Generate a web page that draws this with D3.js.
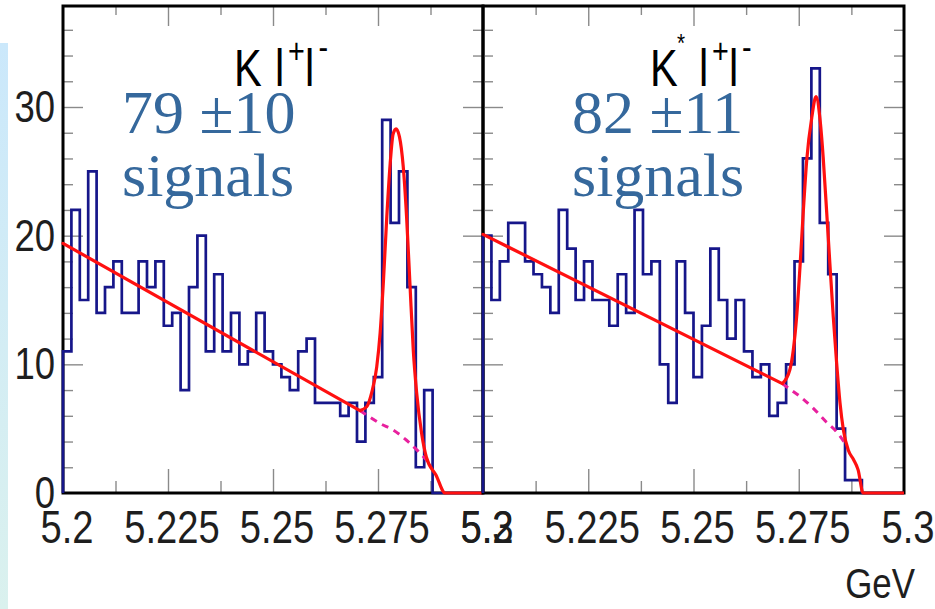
<!DOCTYPE html>
<html>
<head>
<meta charset="utf-8">
<script src="https://cdn.jsdelivr.net/npm/d3@7"></script>
<style>
  html, body { margin: 0; padding: 0; background: #ffffff; }
  svg { display: block; }
</style>
</head>
<body>
<svg id="chart" width="935" height="609"></svg>
<script>
// Invariant-mass spectra for B -> K l+l- and B -> K* l+l- candidates
const massDomain = [5.2, 5.3];
const binWidth = 0.002;

const massTicks = [5.2, 5.225, 5.25, 5.275, 5.3];
const massTickLabels = ["5.2", "5.225", "5.25", "5.275", "5.3"];
const massMinorTicks = [5.2125, 5.2375, 5.2625, 5.2875];
const countTicks = [0, 10, 20, 30];
const countMinorTicks = [2, 4, 6, 8, 12, 14, 16, 18, 22, 24, 26, 28, 32, 34, 36];

// entries per 2 MeV bin
const kllCounts = [11, 22, 15, 25, 14, 16, 18, 14, 14, 18,
                   16, 18, 13, 14, 8, 16, 20, 11, 17, 11,
                   14, 10, 11, 14, 11, 10, 9, 8, 11, 12,
                   7, 7, 7, 6, 7, 4, 7, 9, 29, 21,
                   25, 16, 2, 8, 0, 0, 0, 0, 0, 0];
const kstarllCounts = [20, 15, 18, 21, 21, 18, 17, 16, 14, 22,
                       19, 15, 18, 15, 15, 13, 17, 14, 22, 17,
                       18, 10, 7, 18, 14, 9, 13, 19, 15, 12,
                       15, 11, 9, 10, 6, 7, 10, 18, 26, 33,
                       21, 17, 5, 1, 1, 0, 0, 0, 0, 0];

// fitted signal + background (mass, entries)
const kllFit = [
  [5.2000, 19.4], [5.2707, 6.4], [5.2723, 6.7], [5.2735, 7.8], [5.2747, 9.8],
  [5.2755, 12.4], [5.2763, 16.5], [5.2771, 21.5], [5.2779, 25.6], [5.2786, 27.9],
  [5.2793, 28.3], [5.2801, 27.7], [5.2810, 25.4], [5.2818, 21.5], [5.2826, 16.3],
  [5.2834, 11.1], [5.2842, 7.8], [5.2854, 4.6], [5.2865, 2.8], [5.2888, 1.4],
  [5.2910, 0], [5.3000, 0]
];
const kstarllFit = [
  [5.2000, 20.1], [5.2711, 8.5], [5.2729, 9.6], [5.2737, 11.1], [5.2745, 13.7],
  [5.2753, 17.6], [5.2761, 22.0], [5.2769, 25.9], [5.2781, 29.2], [5.2791, 30.8],
  [5.2800, 29.2], [5.2808, 26.1], [5.2816, 22.0], [5.2824, 17.8], [5.2832, 13.7],
  [5.2840, 10.1], [5.2848, 7.0], [5.2856, 4.9], [5.2868, 3.3], [5.2880, 2.6],
  [5.2891, 1.8], [5.2903, 0], [5.3000, 0]
];
// background component under the peak
const kllBackground = [
  [5.2707, 6.4], [5.2723, 6.06], [5.2755, 5.4], [5.2786, 4.9], [5.2818, 4.1],
  [5.2850, 3.1], [5.2870, 2.4]
];
const kstarllBackground = [
  [5.2711, 8.5], [5.2721, 8.26], [5.2753, 7.5], [5.2784, 6.6], [5.2816, 5.5],
  [5.2840, 4.76], [5.2860, 3.86]
];

const signalYields = ["79 \u00b110", "82 \u00b111"];

// ---------------------------------------------------------------
const svg = d3.select("#chart");
const W = 935, H = 609;
const plotTop = 6, plotBottom = 493;
const panelEdges = [[63, 483], [483, 904]];

const y = d3.scaleLinear().domain([0, 37.85]).range([plotBottom, plotTop]);

// light side strip
const defs = svg.append("defs");
const grad = defs.append("linearGradient").attr("id", "strip")
  .attr("x1", 0).attr("y1", 0).attr("x2", 0).attr("y2", 1);
grad.append("stop").attr("offset", "0%").attr("stop-color", "#cbe8fb");
grad.append("stop").attr("offset", "100%").attr("stop-color", "#daf1ee");
svg.append("rect").attr("x", 0).attr("y", 43).attr("width", 8).attr("height", H - 43)
  .attr("fill", "url(#strip)");

const sansFont = "'Liberation Sans', Arial, Helvetica, sans-serif";
const serifFont = "'Liberation Serif', 'Times New Roman', serif";
const squeeze = 0.83;
const titleSqueeze = 0.8;

// channel title as one narrowed text with placed glyph runs: [x, baseline, size, text]
function channelTitle(parts) {
  const t = svg.append("text")
    .attr("transform", `scale(${titleSqueeze},1)`)
    .attr("font-family", sansFont).attr("fill", "#000");
  parts.forEach(([px, base, size, str]) => {
    t.append("tspan").attr("x", px / titleSqueeze).attr("y", base)
      .attr("font-size", size).text(str);
  });
}

const panels = [
  { counts: kllCounts, fit: kllFit, bg: kllBackground },
  { counts: kstarllCounts, fit: kstarllFit, bg: kstarllBackground }
];

panels.forEach((p, i) => {
  const [x0, x1] = panelEdges[i];
  const x = d3.scaleLinear().domain(massDomain).range([x0, x1]);
  const g = svg.append("g");

  // tick marks via d3 axes
  const tickStyle = sel => {
    sel.select(".domain").remove();
    sel.selectAll(".tick line").attr("stroke", "#8a8a8a").attr("stroke-width", 1.4);
    sel.selectAll(".tick text").remove();
  };
  g.append("g").attr("transform", `translate(0,${plotBottom})`)
    .call(d3.axisTop(x).tickValues(massMinorTicks).tickSize(12).tickFormat("")).call(tickStyle);
  g.append("g").attr("transform", `translate(0,${plotBottom})`)
    .call(d3.axisTop(x).tickValues(massTicks.slice(1, -1)).tickSize(24).tickFormat("")).call(tickStyle);
  g.append("g").attr("transform", `translate(0,${plotTop})`)
    .call(d3.axisBottom(x).tickValues(massMinorTicks).tickSize(9).tickFormat("")).call(tickStyle);
  g.append("g").attr("transform", `translate(0,${plotTop})`)
    .call(d3.axisBottom(x).tickValues(massTicks.slice(1, -1)).tickSize(20).tickFormat("")).call(tickStyle);
  g.append("g").attr("transform", `translate(${x0},0)`)
    .call(d3.axisRight(y).tickValues(countMinorTicks).tickSize(10).tickFormat("")).call(tickStyle);
  g.append("g").attr("transform", `translate(${x0},0)`)
    .call(d3.axisRight(y).tickValues(countTicks.slice(1)).tickSize(20).tickFormat("")).call(tickStyle);
  g.append("g").attr("transform", `translate(${x1},0)`)
    .call(d3.axisLeft(y).tickValues(countMinorTicks).tickSize(10).tickFormat("")).call(tickStyle);
  g.append("g").attr("transform", `translate(${x1},0)`)
    .call(d3.axisLeft(y).tickValues(countTicks.slice(1)).tickSize(20).tickFormat("")).call(tickStyle);

  // frame
  g.append("rect").attr("x", x0).attr("y", plotTop).attr("width", x1 - x0).attr("height", plotBottom - plotTop)
    .attr("fill", "none").attr("stroke", "#000").attr("stroke-width", 3);

  // histogram outline
  const pts = [[massDomain[0], 0]];
  p.counts.forEach((c, k) => pts.push([massDomain[0] + k * binWidth, c]));
  pts.push([massDomain[0] + p.counts.length * binWidth, p.counts[p.counts.length - 1]]);
  const step = d3.line().x(d => x(d[0])).y(d => y(d[1])).curve(d3.curveStepAfter);
  g.append("path").attr("d", step(pts)).attr("fill", "none")
    .attr("stroke", "#16168a").attr("stroke-width", 2.7).attr("stroke-linejoin", "miter");

  // background under the peak (dashed)
  const smooth = d3.line().x(d => x(d[0])).y(d => y(d[1])).curve(d3.curveMonotoneX);
  g.append("path").attr("d", smooth(p.bg)).attr("fill", "none")
    .attr("stroke", "#e8209e").attr("stroke-width", 3).attr("stroke-dasharray", "7,6");

  // total fit: straight background then peak
  const straight = d3.line().x(d => x(d[0])).y(d => y(d[1]));
  g.append("path").attr("d", straight(p.fit.slice(0, 2))).attr("fill", "none")
    .attr("stroke", "#ff1010").attr("stroke-width", 3.2).attr("stroke-linecap", "round");
  g.append("path").attr("d", smooth(p.fit.slice(1))).attr("fill", "none")
    .attr("stroke", "#ff1010").attr("stroke-width", 3.2).attr("stroke-linejoin", "round");

  // mass labels
  massTicks.forEach((m, k) => {
    svg.append("text")
      .attr("transform", `translate(${x(m) + 4},543) scale(${squeeze},1)`)
      .attr("text-anchor", "middle").attr("font-family", sansFont).attr("font-size", 46)
      .attr("fill", "#1e1e1e").text(massTickLabels[k]);
  });

  // signal yield
  const sx = i === 0 ? 122 : 572;
  svg.append("text").attr("x", sx).attr("y", 133)
    .attr("font-family", serifFont).attr("font-size", 62).attr("fill", "#35689c")
    .text(signalYields[i]);
  svg.append("text").attr("x", sx).attr("y", 196)
    .attr("font-family", serifFont).attr("font-size", 62).attr("fill", "#35689c")
    .text("signals");
});

// channel titles: K l+l-  and  K* l+l-
channelTitle([
  [234, 86, 52, "K"], [275, 86, 52, "l"], [288, 63.5, 36, "+"],
  [305, 86, 52, "l"], [318.5, 59, 36, "-"]
]);
channelTitle([
  [650, 86, 52, "K"], [677, 52, 26, "*"], [699, 86, 52, "l"],
  [712, 63.5, 36, "+"], [729, 86, 52, "l"], [742, 59, 36, "-"]
]);

// count labels
countTicks.forEach(v => {
  svg.append("text")
    .attr("transform", `translate(55,${y(v) + 15}) scale(${squeeze},1)`)
    .attr("text-anchor", "end").attr("font-family", sansFont).attr("font-size", 44)
    .attr("fill", "#1e1e1e").text(v);
});

// unit
svg.append("text")
  .attr("transform", `translate(915,598) scale(${squeeze},1)`)
  .attr("text-anchor", "end").attr("font-family", sansFont).attr("font-size", 42)
  .attr("fill", "#1e1e1e").text("GeV");
</script>
</body>
</html>
